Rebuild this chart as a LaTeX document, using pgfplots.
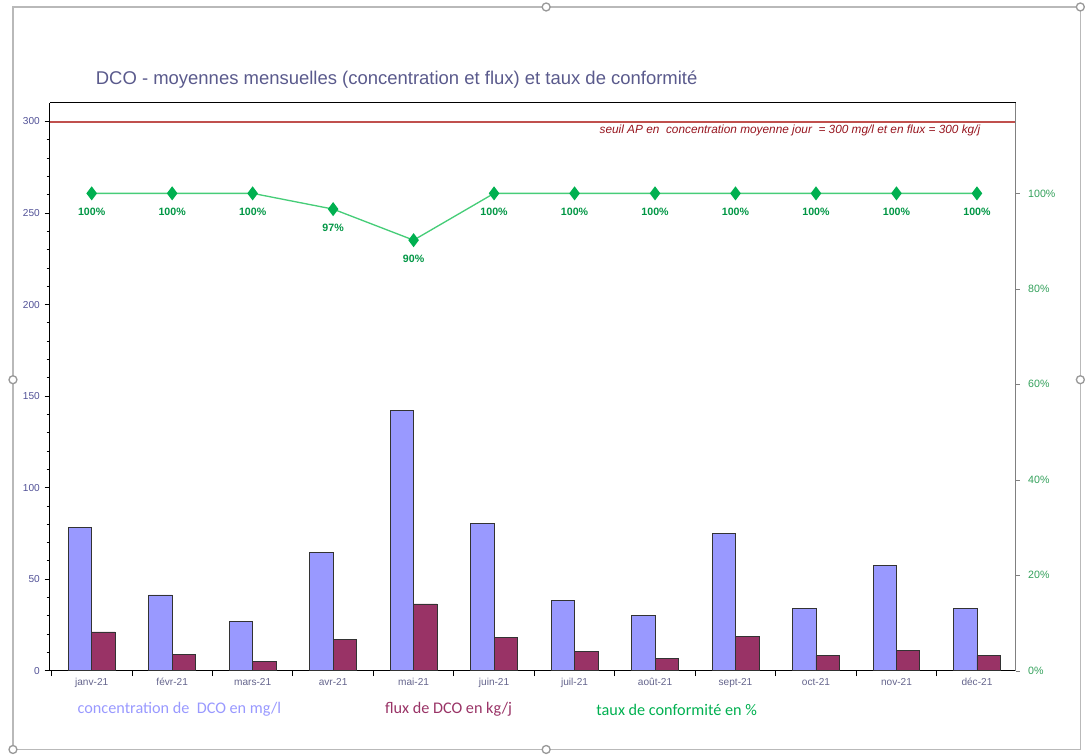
\documentclass[border=0pt]{standalone}
\usepackage{pgfplots}
\pgfplotsset{compat=1.18}
\usepackage{fontspec}
\setmainfont{Liberation Sans}
\newfontfamily\carlito{Carlito}
\definecolor{conc}{RGB}{153,153,255}
\definecolor{flux}{RGB}{153,51,102}
\definecolor{tgreen}{RGB}{0,176,80}
\definecolor{lgreen}{RGB}{70,205,120}
\definecolor{seuil}{RGB}{192,80,77}
\definecolor{titlec}{RGB}{90,90,140}
\definecolor{tickc}{RGB}{80,80,150}
\definecolor{xtickc}{RGB}{100,100,140}
\definecolor{rtickc}{RGB}{50,160,90}
\definecolor{annc}{RGB}{150,20,30}
\definecolor{framec}{RGB}{185,185,185}
\begin{document}
\begin{tikzpicture}
\begin{scope}[x=0.75pt,y=-0.75pt]
\path (0,0) rectangle (1085,754);
\draw[framec, line width=1pt] (13,7) rectangle (1084,752);
\foreach \p in {(548,7),(13,381),(1084,381),(548,752),(13,752),(1084,7)}
  \filldraw[fill=white, draw=gray!80, line width=1pt] \p circle (4);
\node[titlec, font=\fontsize{13.9}{16}\selectfont] at (398,80) {DCO - moyennes mensuelles (concentration et flux) et taux de conformité};
\node[conc, font=\carlito\fontsize{12.2}{14}\selectfont] at (180,712) {concentration de~~DCO en mg/l};
\node[flux, font=\carlito\fontsize{12.2}{14}\selectfont] at (450,712) {flux de DCO en kg/j};
\node[tgreen, font=\carlito\fontsize{12.2}{14}\selectfont] at (679,712) {taux de conformité en \%};
\end{scope}

\begin{axis}[
  at={(37.5pt,-504.75pt)}, anchor=south west,
  scale only axis, width=726.75pt, height=427.5pt,
  xmin=-0.52, xmax=11.48, ymin=0, ymax=310.3,
  clip=false,
  axis x line*=bottom, axis y line*=left,
  axis line style={black, line width=0.8pt},
  xtick={-0.5,0.5,...,11.5}, xticklabels={},
  extra x ticks={0,1,2,3,4,5,6,7,8,9,10,11},
  extra x tick labels={janv-21,févr-21,mars-21,avr-21,mai-21,juin-21,juil-21,août-21,sept-21,oct-21,nov-21,déc-21},
  extra x tick style={major tick length=0pt},
  ytick={0,50,100,150,200,250,300},
  minor y tick num=4,
  tick align=outside,
  major tick length=4pt, minor tick length=2.5pt,
  tick style={black, line width=0.6pt},
  /pgf/number format/assume math mode=true,
  xticklabel style={xtickc, font=\fontsize{7.6}{9}\selectfont, yshift=-2pt},
  yticklabel style={tickc, font=\fontsize{7.6}{9}\selectfont},
]
\addplot[seuil, line width=1.5pt, sharp plot, forget plot] coordinates {(-0.52,300) (11.48,300)};
\addplot[ybar, bar width=17.6pt, bar shift=-8.8pt, fill=conc, draw=black!80, line width=0.6pt] coordinates {
(0,78.4) (1,41.4) (2,26.9) (3,64.8) (4,142.1) (5,80.6) (6,38.3) (7,30.2) (8,75.2) (9,33.9) (10,57.4) (11,33.9)};
\addplot[ybar, bar width=17.6pt, bar shift=8.8pt, fill=flux, draw=black!80, line width=0.6pt] coordinates {
(0,21.2) (1,8.9) (2,4.9) (3,16.9) (4,36.5) (5,18.3) (6,10.3) (7,6.5) (8,18.6) (9,8.2) (10,11.0) (11,8.2)};
\draw[black, line width=0.8pt] (rel axis cs:0,1) -- (rel axis cs:1,1);
\node[anchor=east, annc, font=\fontsize{8.9}{10}\selectfont\itshape] at (axis cs:11.1,295.1) {seuil AP en~~concentration moyenne jour~~= 300 mg/l et en flux = 300 kg/j};
\end{axis}

\begin{axis}[
  at={(37.5pt,-504.75pt)}, anchor=south west,
  scale only axis, width=726.75pt, height=427.5pt,
  xmin=-0.52, xmax=11.48, ymin=0, ymax=1.19,
  clip=false,
  axis x line=none, axis y line*=right,
  axis line style={gray, line width=0.6pt},
  ytick={0,0.2,0.4,0.6,0.8,1},
  yticklabels={0\%,20\%,40\%,60\%,80\%,100\%},
  tick align=outside, major tick length=3pt,
  tick style={gray},
  yticklabel style={rtickc, font=\fontsize{8}{9}\selectfont, xshift=3pt},
]
\addplot[lgreen, line width=1pt, mark=diamond*, mark size=4.5pt,
  mark options={fill=tgreen, draw=tgreen},
  nodes near coords, point meta=explicit symbolic,
  every node near coord/.style={anchor=center, yshift=-14.25pt, text=tgreen!85!black, font=\bfseries\fontsize{8}{9}\selectfont}]
coordinates {
(0,1)[100\%] (1,1)[100\%] (2,1)[100\%] (3,0.967)[97\%] (4,0.902)[90\%] (5,1)[100\%]
(6,1)[100\%] (7,1)[100\%] (8,1)[100\%] (9,1)[100\%] (10,1)[100\%] (11,1)[100\%]};
\end{axis}
\end{tikzpicture}
\end{document}
